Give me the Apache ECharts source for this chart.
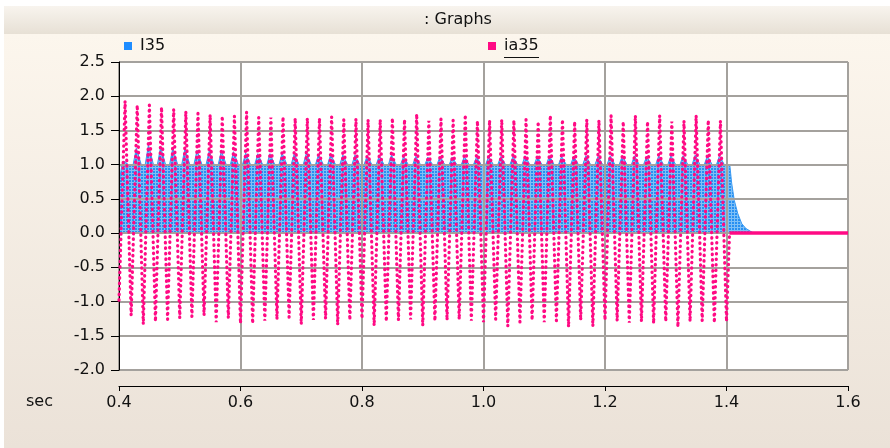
<!DOCTYPE html>
<html><head><meta charset="utf-8">
<script src="https://cdn.jsdelivr.net/npm/echarts@6/dist/echarts.min.js"></script>
<style>html,body{margin:0;padding:0;background:#fff;overflow:hidden}#c{width:890px;height:448px}</style>
</head><body><div id="c"></div>
<script>
// ---- data ----
const titleText = ': Graphs';
const xAxisName = 'sec';
const seriesNames = ['I35', 'ia35'];
const xMin = 0.4, xMax = 1.6, xStep = 0.2;
const yMin = -2.0, yMax = 2.5, yStep = 0.5;

// ia35 : 50 Hz oscillation, first peak at 0.41 s, first trough at 0.42 s
const iaStart = [0.40, -0.98];
const iaFirstPeak = 0.41, iaFirstTrough = 0.42, iaPeriod = 0.02;
const iaPeaks = [1.93,1.87,1.87,1.84,1.81,1.78,1.75,1.73,1.71,1.71,
                 1.77,1.69,1.69,1.70,1.68,1.68,1.68,1.70,1.66,1.67,
                 1.66,1.66,1.68,1.66,1.74,1.64,1.67,1.65,1.73,1.64,
                 1.65,1.66,1.65,1.66,1.63,1.72,1.66,1.63,1.66,1.65,
                 1.72,1.63,1.72,1.63,1.72,1.63,1.64,1.72,1.65,1.64];
const iaTroughs = [-1.20,-1.33,-1.29,-1.26,-1.24,-1.22,-1.20,-1.30,-1.24,-1.32,
                   -1.32,-1.28,-1.26,-1.23,-1.33,-1.27,-1.25,-1.34,-1.27,-1.25,
                   -1.35,-1.29,-1.27,-1.26,-1.35,-1.28,-1.27,-1.26,-1.28,-1.30,
                   -1.26,-1.36,-1.30,-1.27,-1.30,-1.28,-1.37,-1.27,-1.36,-1.27,
                   -1.28,-1.31,-1.29,-1.32,-1.29,-1.37,-1.29,-1.28,-1.31,-1.29];
const iaOffTime = [1.405, 1.6];
const iaOffValue = [0, 0];

// I35 : filled current with ripple bumps at every ia35 peak
const i35StartTime = [0.400, 0.404];
const i35StartValue = [0.72, 0.96];
const i35Flat = 0.99;
const i35BumpBase = 0.007;   // half-width of a bump at its foot (s)
const i35BumpTop = 0.0015;   // half-width of a bump at its crest (s)
const i35Bumps = [1.05,1.24,1.29,1.26,1.24,1.23,1.21,1.20,1.20,1.19,
                  1.17,1.16,1.16,1.17,1.16,1.17,1.15,1.15,1.14,1.14,
                  1.13,1.13,1.14,1.12,1.12,1.11,1.12,1.11,1.12,1.11,
                  1.12,1.12,1.12,1.13,1.12,1.13,1.12,1.12,1.13,1.12,
                  1.13,1.13,1.13,1.12,1.13,1.13,1.13,1.14,1.13,1.13];
const i35DecayTime  = [1.4055,1.4085,1.4128,1.4184,1.425,1.4316,1.4387,1.445,1.6];
const i35DecayValue = [0.99, 0.73, 0.48, 0.29, 0.14, 0.07, 0.03, 0.0, 0.0];

// ---- build series data ----
const r = v => Math.round(v * 10000) / 10000;
const iaData = [iaStart];
for (let k = 0; k < iaPeaks.length; k++) {
  iaData.push([r(iaFirstPeak + k * iaPeriod), iaPeaks[k]]);
  iaData.push([r(iaFirstTrough + k * iaPeriod), iaTroughs[k]]);
}
iaData.push([iaOffTime[0], iaOffValue[0]]);
const iaOffData = iaOffTime.map((t, i) => [t, iaOffValue[i]]);

const i35Data = i35StartTime.map((t, i) => [t, i35StartValue[i]]);
for (let k = 0; k < i35Bumps.length; k++) {
  const t = iaFirstPeak + k * iaPeriod;
  i35Data.push([r(t - i35BumpBase), i35Flat]);
  i35Data.push([r(t - i35BumpTop), i35Bumps[k]]);
  i35Data.push([r(t + i35BumpTop), i35Bumps[k]]);
  i35Data.push([r(t + i35BumpBase), i35Flat]);
}
i35DecayTime.forEach((t, i) => i35Data.push([t, i35DecayValue[i]]));

// mesh pattern for the blue fill
const pc = document.createElement('canvas');
pc.width = 3; pc.height = 3;
const pctx = pc.getContext('2d');
pctx.fillStyle = '#7fc0f6'; pctx.fillRect(0, 0, 3, 3);
pctx.fillStyle = '#2890f2'; pctx.fillRect(0, 0, 2, 2);

const FONT = 'DejaVu Sans';
const BLUE = '#1e8cff', PINK = '#ff0a84';
const chart = echarts.init(document.getElementById('c'), null, {renderer: 'canvas'});
chart.setOption({
  animation: false,
  graphic: [
    {type: 'rect', z: -100, shape: {x: 4, y: 6, width: 886, height: 28},
     style: {fill: new echarts.graphic.LinearGradient(0, 0, 0, 1, [{offset: 0, color: '#f8f4ee'}, {offset: 1, color: '#e7e0d5'}])}},
    {type: 'rect', z: -100, shape: {x: 4, y: 34, width: 886, height: 414},
     style: {fill: new echarts.graphic.LinearGradient(0, 0, 0, 1, [{offset: 0, color: '#fcf6ed'}, {offset: 1, color: '#ebe2d8'}])}},
    {type: 'rect', z: -90, shape: {x: 119, y: 62, width: 729, height: 308}, style: {fill: '#ffffff'}},
    {type: 'text', z: 10, x: 458, y: 20, style: {text: titleText, font: '16px "DejaVu Sans"', fill: '#111', textAlign: 'center', textVerticalAlign: 'middle'}},
    {type: 'text', z: 10, x: 26, y: 402, style: {text: xAxisName, font: '16px "DejaVu Sans"', fill: '#111', textAlign: 'left', textVerticalAlign: 'middle'}},
    {type: 'line', z: 10, shape: {x1: 504, y1: 57.5, x2: 539, y2: 57.5}, style: {stroke: '#111', lineWidth: 1}}
  ],
  legend: [
    {data: [{name: seriesNames[0], itemStyle: {color: BLUE}}], left: 124, top: 38, padding: 0, icon: 'rect', itemWidth: 8, itemHeight: 8,
     textStyle: {fontFamily: FONT, fontSize: 16, color: '#111', padding: [0, 0, 0, 3]}},
    {data: [{name: seriesNames[1], itemStyle: {color: PINK}}], left: 488, top: 38, padding: 0, icon: 'rect', itemWidth: 8, itemHeight: 8,
     textStyle: {fontFamily: FONT, fontSize: 16, color: '#111', padding: [0, 0, 0, 3]}}
  ],
  grid: {left: 119, right: 42, top: 62, bottom: 78, show: false},
  xAxis: {
    type: 'value', min: xMin, max: xMax, interval: xStep, offset: 16, z: 2,
    axisLine: {show: true, onZero: false, lineStyle: {color: '#000', width: 1}},
    axisTick: {show: true, length: 5, lineStyle: {color: '#000'}},
    axisLabel: {fontFamily: FONT, fontSize: 16, color: '#111', margin: 9, formatter: v => v.toFixed(1)},
    splitLine: {show: true, lineStyle: {color: '#a4a19d', width: 2}}
  },
  yAxis: {
    type: 'value', min: yMin, max: yMax, interval: yStep, z: 2,
    axisLine: {show: true, onZero: false, lineStyle: {color: '#000', width: 1}},
    axisTick: {show: true, length: 8, lineStyle: {color: '#000'}},
    axisLabel: {fontFamily: FONT, fontSize: 16, color: '#111', margin: 14, formatter: v => v.toFixed(1)},
    splitLine: {show: true, lineStyle: {color: '#a4a19d', width: 2}}
  },
  series: [
    {name: seriesNames[0], type: 'line', z: 1, data: i35Data, showSymbol: false, symbol: 'none',
     itemStyle: {color: BLUE}, lineStyle: {color: '#3a9af2', width: 1},
     areaStyle: {color: {image: pc, repeat: 'repeat'}, opacity: 1}},
    {name: seriesNames[1], type: 'line', z: 3, data: iaData, showSymbol: false, symbol: 'none',
     itemStyle: {color: PINK}, lineStyle: {color: PINK, width: 3.2, type: [0.5, 5], cap: 'round'}},
    {name: seriesNames[1], type: 'line', z: 3, data: iaOffData, showSymbol: false, symbol: 'none',
     itemStyle: {color: PINK}, lineStyle: {color: PINK, width: 3.5}}
  ]
});
</script></body></html>
